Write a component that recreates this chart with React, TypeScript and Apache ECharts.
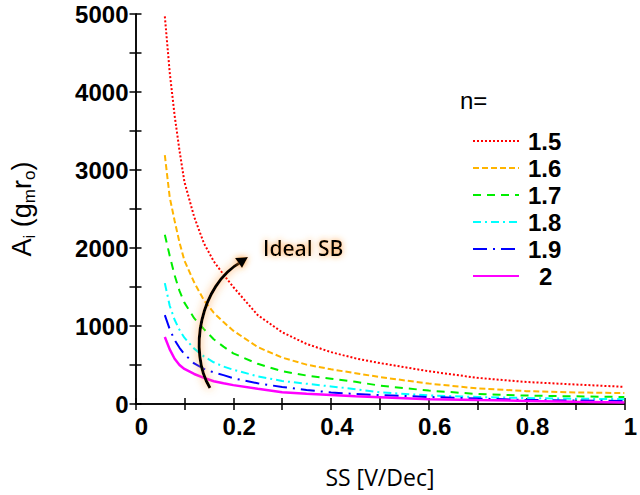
import React, { useEffect, useRef } from "react";
import * as echarts from "echarts";

const ss = [0.06, 0.07, 0.08, 0.09, 0.1, 0.12, 0.14, 0.16, 0.18, 0.2, 0.25, 0.3, 0.35, 0.4, 0.45, 0.5, 0.6, 0.7, 0.8, 0.9, 1.0];
const n15 = [4970, 4250, 3700, 3250, 2850, 2400, 2060, 1830, 1660, 1500, 1140, 920, 770, 665, 585, 525, 420, 335, 282, 250, 220];
const n16 = [3190, 2650, 2350, 2070, 1840, 1560, 1330, 1170, 1050, 940, 730, 595, 505, 445, 395, 345, 262, 200, 165, 148, 140];
const n17 = [2170, 1900, 1650, 1450, 1300, 1100, 960, 830, 735, 650, 515, 420, 365, 325, 285, 235, 172, 128, 108, 98, 90];
const n18 = [1550, 1260, 1080, 950, 850, 710, 610, 535, 480, 440, 355, 295, 260, 225, 190, 150, 110, 90, 76, 68, 62];
const n19 = [1140, 960, 820, 720, 640, 520, 450, 405, 370, 330, 265, 218, 180, 148, 128, 115, 90, 70, 52, 45, 38];
const n20 = [860, 700, 580, 500, 450, 385, 335, 292, 265, 242, 195, 152, 132, 115, 98, 86, 62, 50, 40, 28, 20];

const seriesNames = ["1.5", "1.6", "1.7", "1.8", "1.9", "2"];
const seriesData = [n15, n16, n17, n18, n19, n20];
const colors = ["#ff0000", "#ffb400", "#00ee00", "#00ffff", "#0000ff", "#ff00ff"];
const dashes: any[] = [[2, 2], [6, 3], [8, 6], [8, 4, 2, 4], [14, 6, 2, 6], "solid"];
const widths = [2, 2, 2, 2, 2, 2.5];

export default function App() {
  const ref = useRef<HTMLDivElement>(null);
  useEffect(() => {
    if (!ref.current) return;
    const chart = echarts.init(ref.current, null, { renderer: "svg" });
    const series = seriesNames.map((name, i) => ({
      name,
      type: "line",
      symbol: "none",
      showSymbol: false,
      smooth: false,
      data: ss.map((x, j) => [x, seriesData[i][j]]),
      lineStyle: { color: colors[i], width: widths[i], type: dashes[i] },
      itemStyle: { color: colors[i] },
    }));
    const tickStyle = { show: true, inside: true, length: 6, lineStyle: { color: "#000", width: 1.5 } };
    const axisLine = { show: true, lineStyle: { color: "#000", width: 1.5 } };
    const labelFont = { fontFamily: "'Liberation Sans', Arial, sans-serif", fontWeight: "bold" as const, fontSize: 24, color: "#000" };
    chart.setOption({
      animation: false,
      backgroundColor: "#fff",
      grid: { left: 135, right: 7, top: 14, bottom: 91, containLabel: false },
      legend: {
        orient: "vertical",
        left: 472,
        top: 129,
        padding: 0,
        itemWidth: 46,
        itemHeight: 14,
        itemGap: 3,
        itemStyle: { opacity: 0 },
        textStyle: { ...labelFont, fontSize: 24, lineHeight: 22, padding: [0, 0, 0, 4] },
        data: seriesNames.map((n) => (n === "2" ? { name: n, textStyle: { padding: [0, 0, 0, 15] } } : { name: n })),
      },
      xAxis: [
        {
          type: "value",
          min: 0,
          max: 1,
          interval: 0.1,
          axisLine,
          axisTick: tickStyle,
          splitLine: { show: false },
          axisLabel: {
            ...labelFont,
            margin: 10,
            padding: [0, 0, 0, 12],
            formatter: (v: number) => {
              const r = Math.round(v * 10);
              if (r % 2) return "";
              if (r === 0) return "0";
              if (r === 10) return "1";
              return (r / 10).toFixed(1);
            },
          },
          name: "SS [V/Dec]",
          nameLocation: "middle",
          nameGap: 61,
          nameTextStyle: { fontFamily: "'Open Sans', sans-serif", fontSize: 23, color: "#000" },
        },
        {
          type: "value",
          position: "top",
          min: 0,
          max: 1,
          interval: 0.1,
          axisLine,
          axisTick: tickStyle,
          axisLabel: { show: false },
          splitLine: { show: false },
        },
      ],
      yAxis: [
        {
          type: "value",
          min: 0,
          max: 5000,
          interval: 500,
          axisLine,
          axisTick: tickStyle,
          splitLine: { show: false },
          axisLabel: {
            ...labelFont,
            margin: 7,
            formatter: (v: number) => (v % 1000 === 0 ? String(v) : ""),
          },
          name: "{a|A}{s|i}{a| (g}{s|m}{a|r}{s|o}{a|)}",
          nameLocation: "middle",
          nameRotate: 90,
          nameGap: 98,
          nameTextStyle: {
            color: "#000",
            rich: {
              a: { fontFamily: "'Liberation Sans', Arial, sans-serif", fontSize: 27, lineHeight: 32, color: "#000" },
              s: { fontFamily: "'Liberation Sans', Arial, sans-serif", fontSize: 17, lineHeight: 20, verticalAlign: "bottom", color: "#000" },
            },
          },
        },
        {
          type: "value",
          position: "right",
          min: 0,
          max: 5000,
          interval: 500,
          axisLine,
          axisTick: tickStyle,
          axisLabel: { show: false },
          splitLine: { show: false },
        },
      ],
      series,
      graphic: [
        {
          type: "text",
          left: 460,
          top: 88,
          style: { text: "n=", fontFamily: "'Liberation Sans', Arial, sans-serif", fontSize: 24, fill: "#000" },
        },
        {
          type: "bezierCurve",
          shape: { x1: 210, y1: 388, cpx1: 188, cpy1: 352, cpx2: 200, cpy2: 285, x2: 241, y2: 262 },
          style: { stroke: "#000", lineWidth: 3, fill: null, shadowColor: "rgba(255,150,50,0.9)", shadowBlur: 8 },
          z: 100,
        },
        {
          type: "polygon",
          shape: { points: [[248, 257], [235, 258], [242, 268]] },
          style: { fill: "#000", shadowColor: "rgba(255,150,50,0.9)", shadowBlur: 6 },
          z: 100,
        },
        {
          type: "text",
          left: 263,
          top: 237,
          style: {
            text: "Ideal SB",
            fontFamily: "'Open Sans', sans-serif",
            fontSize: 21,
            fontWeight: 600,
            fill: "#000",
            textShadowColor: "rgba(255,150,50,0.9)",
            textShadowBlur: 6,
          },
          z: 100,
        },
      ],
    });
    return () => chart.dispose();
  }, []);
  return <div ref={ref} style={{ position: "fixed", left: 0, top: 0, width: 640, height: 495, background: "#fff" }} />;
}
